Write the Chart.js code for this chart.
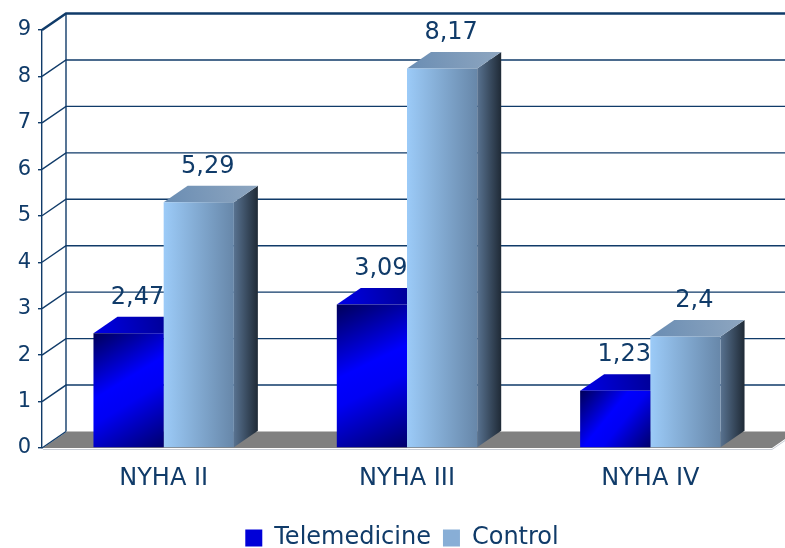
<!DOCTYPE html>
<html>
<head>
<meta charset="utf-8">
<script src="https://cdn.jsdelivr.net/npm/chart.js@4.4.0/dist/chart.umd.min.js"></script>
<style>
html, body { margin: 0; padding: 0; background: #fff; overflow: hidden; }
#wrap { width: 785px; height: 548px; }
</style>
</head>
<body>
<div id="wrap"><canvas id="nyha-chart" width="785" height="548"></canvas></div>
<script>
// values
var categories = ['NYHA II', 'NYHA III', 'NYHA IV'];
var seriesNames = ['Telemedicine', 'Control'];
var telemedicine = [2.47, 3.09, 1.23];
var control = [5.29, 8.17, 2.4];
var yMin = 0, yMax = 9, yStep = 1;

var NAVY = '#103b69';
var FONT = '"DejaVu Sans", "Liberation Sans", Arial, sans-serif';
var DX = 24, DY = -16.5;      // depth of the fake 3d
var CAT_PCT = 0.577;
var legendColors = ['#0000d8', '#88aed6'];

function fmt(v) {
    return String(v).replace('.', ',');
}

function frontFill(kind) {
    return function(c) {
        var chart = c.chart;
        if (!chart.chartArea || c.dataIndex === undefined) return legendColors[kind];
        var xs = chart.scales.x, ys = chart.scales.y;
        var slot = xs.width / categories.length * CAT_PCT / 2;
        var cx = xs.getPixelForValue(c.dataIndex);
        var left = kind === 0 ? cx - slot : cx;
        var right = left + slot;
        var top = ys.getPixelForValue(c.raw), base = ys.getPixelForValue(0);
        var g;
        if (kind === 0) {
            g = chart.ctx.createLinearGradient(left, top, right, base);
            g.addColorStop(0, '#000058');
            g.addColorStop(0.42, '#0000ff');
            g.addColorStop(0.58, '#0000f4');
            g.addColorStop(1, '#00006a');
        } else {
            g = chart.ctx.createLinearGradient(left, 0, right, 0);
            g.addColorStop(0, '#9ccbf8');
            g.addColorStop(1, '#6787a9');
        }
        return g;
    };
}

function poly(ctx, pts) {
    ctx.beginPath();
    ctx.moveTo(pts[0], pts[1]);
    for (var i = 2; i < pts.length; i += 2) ctx.lineTo(pts[i], pts[i + 1]);
    ctx.closePath();
    ctx.fill();
}

var depth3d = {
    id: 'depth3d',
    afterLayout: function(chart) {
        // push the legend row down to where the original has it
        var lg = chart.legend;
        lg.top += 12; lg.bottom += 12;
        lg.left += 16; lg.right += 16;
    },
    beforeDatasetsDraw: function(chart) {
        var ctx = chart.ctx, a = chart.chartArea, ys = chart.scales.y;
        var y0 = ys.getPixelForValue(0);
        ctx.save();

        // floor
        ctx.fillStyle = '#808080';
        poly(ctx, [a.left + 1, y0, a.right, y0, a.right + DX, y0 + DY, a.left + 1 + DX, y0 + DY]);
        ctx.strokeStyle = '#c9ced6';
        ctx.lineWidth = 1;
        ctx.beginPath();
        ctx.moveTo(a.left + 1, y0 + 1.5);
        ctx.lineTo(a.right, y0 + 1.5);
        ctx.lineTo(a.right + DX, y0 + DY + 1.5);
        ctx.stroke();

        // back wall grid + diagonals
        ctx.strokeStyle = NAVY;
        ys.ticks.forEach(function(t) {
            var yp = ys.getPixelForValue(t.value);
            ctx.lineWidth = t.value === yMax ? 2.5 : 1.4;
            ctx.beginPath();
            ctx.moveTo(a.left, yp);
            ctx.lineTo(a.left + DX, yp + DY);
            if (t.value > yMin) ctx.lineTo(chart.width, yp + DY);
            ctx.stroke();
        });
        ctx.lineWidth = 1.4;
        ctx.beginPath();
        ctx.moveTo(a.left + DX, y0 + DY);
        ctx.lineTo(a.left + DX, ys.getPixelForValue(yMax) + DY);
        ctx.stroke();

        // sides and tops of the bars
        chart.data.datasets.forEach(function(ds, di) {
            var meta = chart.getDatasetMeta(di);
            meta.data.forEach(function(bar) {
                var p = bar.getProps(['x', 'y', 'base', 'width'], true);
                var l = p.x - p.width / 2, r = p.x + p.width / 2;
                var g = ctx.createLinearGradient(r, 0, r + DX, 0);
                if (di === 0) {
                    g.addColorStop(0, '#000060');
                    g.addColorStop(1, '#000038');
                } else {
                    g.addColorStop(0, '#587290');
                    g.addColorStop(1, '#1f2a36');
                }
                ctx.fillStyle = g;
                poly(ctx, [r, p.y, r + DX, p.y + DY, r + DX, p.base + DY, r, p.base]);

                var gt = ctx.createLinearGradient(l, p.y, r + DX, p.y + DY);
                if (di === 0) {
                    gt.addColorStop(0, '#0000e8');
                    gt.addColorStop(1, '#000080');
                } else {
                    gt.addColorStop(0, '#6a8db3');
                    gt.addColorStop(1, '#8ea6c0');
                }
                ctx.fillStyle = gt;
                poly(ctx, [l, p.y, r, p.y, r + DX, p.y + DY, l + DX, p.y + DY]);
            });
        });
        ctx.restore();
    },
    afterDatasetsDraw: function(chart) {
        var ctx = chart.ctx;
        ctx.save();
        ctx.fillStyle = NAVY;
        ctx.font = '24px ' + FONT;
        ctx.textAlign = 'center';
        ctx.textBaseline = 'middle';
        chart.data.datasets.forEach(function(ds, di) {
            chart.getDatasetMeta(di).data.forEach(function(bar, i) {
                ctx.fillText(fmt(ds.data[i]), bar.x + 9, bar.y - 36);
            });
        });
        ctx.restore();
    }
};

var ctx = document.getElementById('nyha-chart').getContext('2d');
var nyhaChart = new Chart(ctx, {
    type: 'bar',
    data: {
        labels: categories,
        datasets: [{
            label: seriesNames[0],
            data: telemedicine,
            backgroundColor: frontFill(0),
            borderWidth: 0
        }, {
            label: seriesNames[1],
            data: control,
            backgroundColor: frontFill(1),
            borderWidth: 0
        }]
    },
    options: {
        responsive: false,
        animation: false,
        layout: { padding: { top: 30, right: 13, left: 0, bottom: 0 } },
        categoryPercentage: CAT_PCT,
        barPercentage: 1,
        scales: {
            x: {
                grid: { display: false },
                border: { display: false },
                ticks: { color: NAVY, font: { family: FONT, size: 24 }, padding: 8 },
                afterFit: function(s) { s.height = 54; }
            },
            y: {
                min: yMin,
                max: yMax,
                ticks: { stepSize: yStep, color: NAVY, font: { family: FONT, size: 21 }, padding: 7 },
                grid: { drawOnChartArea: false, drawTicks: true, tickLength: 4, color: NAVY, lineWidth: 1.4 },
                border: { display: true, color: NAVY, width: 1.4 },
                afterFit: function(s) { s.width = 42; }
            }
        },
        plugins: {
            tooltip: { enabled: false },
            legend: {
                position: 'bottom',
                labels: {
                    boxWidth: 17,
                    boxHeight: 17,
                    padding: 12,
                    color: NAVY,
                    font: { family: FONT, size: 24 },
                    generateLabels: function(chart) {
                        return chart.data.datasets.map(function(ds, i) {
                            return {
                                text: ds.label,
                                fillStyle: legendColors[i],
                                strokeStyle: legendColors[i],
                                lineWidth: 0,
                                hidden: false,
                                datasetIndex: i,
                                fontColor: NAVY
                            };
                        });
                    }
                }
            }
        }
    },
    plugins: [depth3d]
});
</script>
</body>
</html>
